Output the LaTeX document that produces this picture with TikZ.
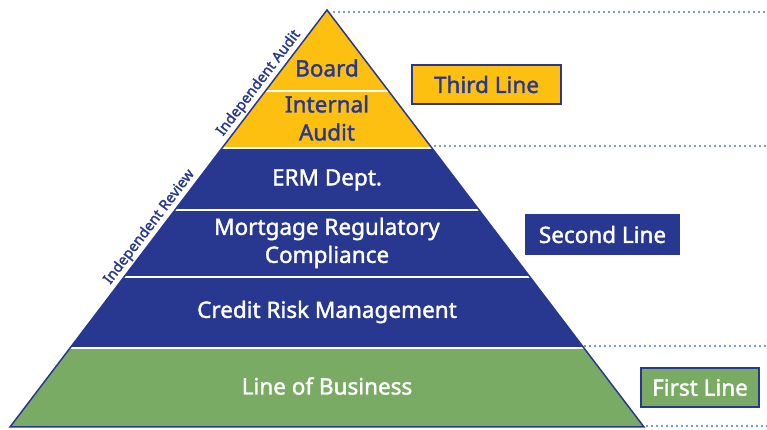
\documentclass[tikz,border=0pt]{standalone}
\usepackage{fontspec}
\setmainfont{Noto Sans}[FakeBold=1.6]
\definecolor{lineblue}{HTML}{283891}
\definecolor{lineyellow}{HTML}{FDC010}
\definecolor{linegreen}{HTML}{7AAB64}
\definecolor{guidedots}{HTML}{7A9CCC}
\tikzset{
  tier/.style={font=\fontsize{22.5}{28}\selectfont, align=center},
  linebox/.style={draw=lineblue, line width=1.2pt, font=\fontsize{22.5}{26}\selectfont,
    inner sep=0pt, minimum height=39pt},
  guide/.style={guidedots, line width=2.4pt, dash pattern=on 2.4pt off 2.6pt},
  sidelabel/.style={lineblue, font=\fontsize{14.5}{16}\selectfont, sloped, above, inner sep=2.5pt}
}
\begin{document}
\begin{tikzpicture}[x=1pt,y=1pt]
      \useasboundingbox (0,0) rectangle (767,430);
      \coordinate (apex) at (327,420);
      \coordinate (bl) at (10,3);
      \coordinate (br) at (644,3);
      % bands inside the pyramid
      \begin{scope}
        \clip (apex) -- (bl) -- (br) -- cycle;
        \fill[lineyellow] (0,282) rectangle (767,430);
        \fill[lineblue] (0,82) rectangle (767,282);
        \fill[linegreen] (0,0) rectangle (767,82);
        \foreach \y in {339,282,220,153,82}
          \draw[white, line width=2.2pt] (0,\y) -- (767,\y);
      \end{scope}
      \draw[lineblue, line width=1.5pt, line join=miter] (apex) -- (bl) -- (br) -- cycle;
      % guide lines
      \coordinate (g1) at (333,418);
      \coordinate (g2) at (434,284);
      \coordinate (g3) at (584,84);
      \coordinate (g4) at (646,4);
      \foreach \g in {g1,g2,g3,g4}
        \draw[guide] (\g) -- (767,0 |- \g);
      % tier texts
      \node[tier, lineblue] (board) at (327,362) {Board};
      \node[tier, lineblue] (audit) at (327,312) {Internal\\Audit};
      \node[tier, white] (erm) at (327,250) {ERM Dept.};
      \node[tier, white] (mrc) at (327,187) {Mortgage Regulatory\\Compliance};
      \node[tier, white] (crm) at (327,118) {Credit Risk Management};
      \node[tier, white] (lob) at (327,44) {Line of Business};
      % the three lines
      \node[linebox, fill=lineyellow, text=lineblue, minimum width=149pt] (third) at (486.5,345.5) {Third Line};
      \node[linebox, fill=lineblue, text=white, minimum width=153pt] (second) at (602.5,195.5) {Second Line};
      \node[linebox, fill=linegreen, text=white, minimum width=118pt] (first) at (700,42.5) {First Line};
      % side labels
      \path (bl) -- (apex)
        node[sidelabel, pos=0.81] (indaudit) {Independent Audit}
        node[sidelabel, pos=0.465] (indreview) {Independent Review};
    \end{tikzpicture}
\end{document}
